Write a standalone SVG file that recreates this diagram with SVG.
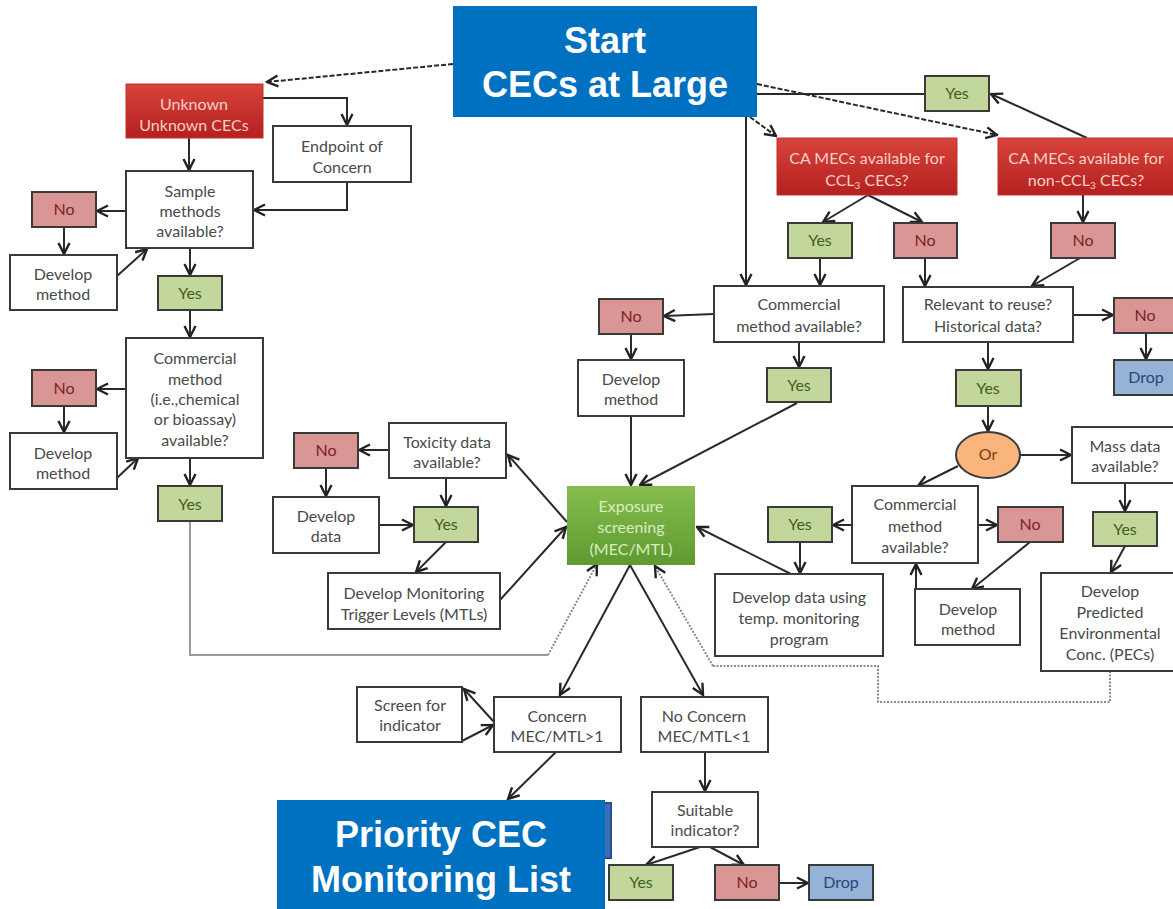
<svg xmlns="http://www.w3.org/2000/svg" width="1173" height="909" viewBox="0 0 1173 909">
<defs>
<linearGradient id="gRed" x1="0" y1="0" x2="0" y2="1"><stop offset="0" stop-color="#D8443B"/><stop offset="1" stop-color="#B3201F"/></linearGradient>
<linearGradient id="gGreen" x1="0" y1="0" x2="0" y2="1"><stop offset="0" stop-color="#86BE4E"/><stop offset="1" stop-color="#5E9A30"/></linearGradient>
<marker id="arr" viewBox="0 0 14 14" refX="12.5" refY="7" markerWidth="14" markerHeight="14" markerUnits="userSpaceOnUse" orient="auto"><path d="M1.5,1.5 L12.5,7 L1.5,12.5" fill="none" stroke="#222" stroke-width="2.4"/></marker>
<marker id="arrG" viewBox="0 0 14 14" refX="12.5" refY="7" markerWidth="14" markerHeight="14" markerUnits="userSpaceOnUse" orient="auto"><path d="M1.5,1.5 L12.5,7 L1.5,12.5" fill="none" stroke="#222" stroke-width="2.4"/></marker>
</defs>
<style>
.box{fill:#fff;stroke:#3a3a3a;stroke-width:2}
.hdr{fill:url(#gRed);stroke:#C03030;stroke-width:1}
.no{fill:#D99694;stroke:#3a3a3a;stroke-width:2}
.yes{fill:#C3D69B;stroke:#3a3a3a;stroke-width:2}
.drop{fill:#95B3D7;stroke:#3a3a3a;stroke-width:2}
.t{font-family:Lato,"Liberation Sans",sans-serif;font-size:16px;fill:#4a4a4a;text-anchor:middle}
.th{font-family:Lato,"Liberation Sans",sans-serif;font-size:16px;fill:#F6CFC8;text-anchor:middle}
.tn{font-family:Lato,"Liberation Sans",sans-serif;font-size:16px;fill:#7A2424;text-anchor:middle}
.ty{font-family:Lato,"Liberation Sans",sans-serif;font-size:16px;fill:#3F5F1E;text-anchor:middle}
.td{font-family:Lato,"Liberation Sans",sans-serif;font-size:16px;fill:#24487A;text-anchor:middle}
.big{font-family:"Liberation Sans",Arial,sans-serif;font-size:36px;font-weight:bold;fill:#fff;text-anchor:middle}
.c{fill:none;stroke:#2a2a2a;stroke-width:2}
.ca{fill:none;stroke:#2a2a2a;stroke-width:2;marker-end:url(#arr)}
.cd{fill:none;stroke:#2a2a2a;stroke-width:2;stroke-dasharray:5,2;marker-end:url(#arr)}
.cg{fill:none;stroke:#9a9a9a;stroke-width:2}
.cgd{fill:none;stroke:#8a8a8a;stroke-width:2;stroke-dasharray:2,1.5}
.cgda{fill:none;stroke:#8a8a8a;stroke-width:2;stroke-dasharray:2,1.5;marker-end:url(#arrG)}
</style>
<rect width="1173" height="909" fill="#fff"/>

<g id="connectors">
<path class="cd" d="M453,64 L267,82"/>
<path class="cd" d="M750,117 L776,136"/>
<path class="cd" d="M757,84 L997,135"/>
<path class="c" d="M757,94 L925,94"/>
<path class="ca" d="M1087,138 L991,94"/>
<path class="ca" d="M746,117 L746,285"/>
<path class="ca" d="M189,138 L189,170"/>
<path class="ca" d="M263,98 L347,98 L347,125"/>
<path class="ca" d="M347,182 L347,210 L254,210"/>
<path class="ca" d="M126,211 L97,211"/>
<path class="ca" d="M64,227 L64,254"/>
<path class="ca" d="M117,276 L147,249"/>
<path class="ca" d="M190,248 L190,275"/>
<path class="ca" d="M190,310 L190,337"/>
<path class="ca" d="M126,389 L97,389"/>
<path class="ca" d="M64,406 L64,432"/>
<path class="ca" d="M117,478 L138,458"/>
<path class="ca" d="M190,458 L190,485"/>
<path class="cg" d="M190,521 L190,655 L548,655"/>
<path class="cgda" d="M548,655 L597,564"/>
<path class="cgd" d="M1110,671 L1110,702 L878,702 L878,666 L713,666"/>
<path class="cgda" d="M713,666 L655,566"/>
<path class="ca" d="M389,450 L359,450"/>
<path class="ca" d="M326,468 L326,496"/>
<path class="ca" d="M379,525 L413,525"/>
<path class="ca" d="M446,478 L446,506"/>
<path class="ca" d="M446,542 L416,572"/>
<path class="ca" d="M500,600 L566,527"/>
<path class="ca" d="M567,522 L508,455"/>
<path class="ca" d="M714,314 L664,316"/>
<path class="ca" d="M631,334 L631,359"/>
<path class="ca" d="M631,416 L631,485"/>
<path class="ca" d="M799,342 L799,367"/>
<path class="ca" d="M797,403 L640,485"/>
<path class="ca" d="M868,195 L823,222"/>
<path class="ca" d="M868,195 L922,222"/>
<path class="ca" d="M820,258 L820,285"/>
<path class="ca" d="M925,258 L925,286"/>
<path class="ca" d="M1083,195 L1083,222"/>
<path class="ca" d="M1080,258 L1032,286"/>
<path class="ca" d="M1073,315 L1113,315"/>
<path class="ca" d="M1146,333 L1146,359"/>
<path class="ca" d="M988,342 L988,369"/>
<path class="ca" d="M988,406 L988,431"/>
<path class="ca" d="M1020,455 L1071,455"/>
<path class="ca" d="M958,466 L918,486"/>
<path class="ca" d="M852,525 L833,525"/>
<path class="ca" d="M978,525 L997,525"/>
<path class="ca" d="M1030,542 L972,589"/>
<path class="ca" d="M916,600 L916,564"/>
<path class="ca" d="M1125,483 L1125,511"/>
<path class="ca" d="M1125,546 L1111,572"/>
<path class="ca" d="M800,542 L800,573"/>
<path class="ca" d="M793,575 L697,527"/>
<path class="ca" d="M630,565 L560,695"/>
<path class="ca" d="M630,565 L703,695"/>
<path class="ca" d="M494,722 L464,689"/>
<path class="ca" d="M462,741 L493,725"/>
<path class="ca" d="M556,752 L508,799"/>
<path class="ca" d="M705,752 L705,791"/>
<path class="ca" d="M700,847 L646,865"/>
<path class="ca" d="M710,847 L744,865"/>
<path class="ca" d="M779,883 L808,883"/>
</g>

<g id="start"><rect x="453" y="6" width="304" height="111" fill="#0070C0"/><text class="big" x="605" y="53">Start</text><text class="big" x="605" y="97">CECs at Large</text></g>

<g id="unknown"><rect class="hdr" x="126" y="84" width="137" height="54"/><text class="th" x="194" y="110">Unknown</text><text class="th" x="194" y="131">Unknown CECs</text></g>
<g id="endpoint"><rect class="box" x="273" y="126" width="138" height="56"/><text class="t" x="342" y="152">Endpoint of</text><text class="t" x="342" y="173">Concern</text></g>
<g id="sample"><rect class="box" x="126" y="171" width="127" height="77"/><text class="t" x="190" y="197">Sample</text><text class="t" x="190" y="217">methods</text><text class="t" x="190" y="237">available?</text></g>
<g id="no1"><rect class="no" x="32" y="192" width="64" height="35"/><text class="tn" x="64" y="215">No</text></g>
<g id="dev1"><rect class="box" x="10" y="255" width="107" height="55"/><text class="t" x="63" y="280">Develop</text><text class="t" x="63" y="300">method</text></g>
<g id="yes1"><rect class="yes" x="158" y="276" width="64" height="34"/><text class="ty" x="190" y="299">Yes</text></g>
<g id="comm1"><rect class="box" x="126" y="338" width="137" height="120"/><text class="t" x="195" y="364">Commercial</text><text class="t" x="195" y="385">method</text><text class="t" x="195" y="405">(i.e.,chemical</text><text class="t" x="195" y="425">or bioassay)</text><text class="t" x="195" y="446">available?</text></g>
<g id="no2"><rect class="no" x="32" y="370" width="64" height="36"/><text class="tn" x="64" y="394">No</text></g>
<g id="dev2"><rect class="box" x="10" y="433" width="107" height="56"/><text class="t" x="63" y="459">Develop</text><text class="t" x="63" y="479">method</text></g>
<g id="yes2"><rect class="yes" x="158" y="486" width="64" height="35"/><text class="ty" x="190" y="510">Yes</text></g>

<g id="tox"><rect class="box" x="389" y="423" width="117" height="55"/><text class="t" x="447" y="448">Toxicity data</text><text class="t" x="447" y="468">available?</text></g>
<g id="notox"><rect class="no" x="294" y="433" width="64" height="35"/><text class="tn" x="326" y="456">No</text></g>
<g id="devdata"><rect class="box" x="273" y="497" width="106" height="56"/><text class="t" x="326" y="522">Develop</text><text class="t" x="326" y="542">data</text></g>
<g id="yestox"><rect class="yes" x="414" y="507" width="64" height="35"/><text class="ty" x="446" y="530">Yes</text></g>
<g id="mtl"><rect class="box" x="328" y="573" width="172" height="56"/><text class="t" x="414" y="599">Develop Monitoring</text><text class="t" x="414" y="620">Trigger Levels (MTLs)</text></g>

<g id="exposure"><rect x="567" y="486" width="128" height="79" fill="url(#gGreen)"/><text class="t" style="fill:#D8EDC2" x="631" y="512">Exposure</text><text class="t" style="fill:#D8EDC2" x="631" y="533">screening</text><text class="t" style="fill:#D8EDC2" x="631" y="555">(MEC/MTL)</text></g>

<g id="nomid"><rect class="no" x="599" y="299" width="64" height="35"/><text class="tn" x="631" y="322">No</text></g>
<g id="devmid"><rect class="box" x="578" y="360" width="106" height="56"/><text class="t" x="631" y="385">Develop</text><text class="t" x="631" y="405">method</text></g>
<g id="commmid"><rect class="box" x="714" y="286" width="170" height="56"/><text class="t" x="799" y="310">Commercial</text><text class="t" x="799" y="332">method available?</text></g>
<g id="yesmid"><rect class="yes" x="767" y="368" width="64" height="34"/><text class="ty" x="799" y="391">Yes</text></g>

<g id="ccl3"><rect class="hdr" x="777" y="138" width="180" height="57"/><text class="th" x="867" y="164">CA MECs available for</text><text class="th" x="867" y="186">CCL<tspan font-size="10" dy="3">3</tspan><tspan dy="-3"> CECs?</tspan></text></g>
<g id="nonccl3"><rect class="hdr" x="998" y="138" width="176" height="57"/><text class="th" x="1086" y="164">CA MECs available for</text><text class="th" x="1086" y="186">non-CCL<tspan font-size="10" dy="3">3</tspan><tspan dy="-3"> CECs?</tspan></text></g>
<g id="yestop"><rect class="yes" x="925" y="76" width="64" height="35"/><text class="ty" x="957" y="99">Yes</text></g>
<g id="yesccl"><rect class="yes" x="788" y="223" width="64" height="35"/><text class="ty" x="820" y="246">Yes</text></g>
<g id="noccl"><rect class="no" x="894" y="223" width="63" height="35"/><text class="tn" x="925" y="246">No</text></g>
<g id="nononccl"><rect class="no" x="1051" y="223" width="64" height="35"/><text class="tn" x="1083" y="246">No</text></g>
<g id="relevant"><rect class="box" x="903" y="287" width="170" height="55"/><text class="t" x="988" y="310">Relevant to reuse?</text><text class="t" x="988" y="332">Historical data?</text></g>
<g id="noright"><rect class="no" x="1114" y="298" width="62" height="35"/><text class="tn" x="1145" y="321">No</text></g>
<g id="dropright"><rect class="drop" x="1114" y="360" width="62" height="35"/><text class="td" x="1146" y="383">Drop</text></g>
<g id="yesrel"><rect class="yes" x="956" y="370" width="65" height="36"/><text class="ty" x="988" y="394">Yes</text></g>
<g id="or"><ellipse cx="988" cy="455" rx="32" ry="23" fill="#F9B57B" stroke="#3a3a3a" stroke-width="2"/><text class="t" style="fill:#7A3E14" x="988" y="460">Or</text></g>
<g id="mass"><rect class="box" x="1072" y="427" width="106" height="56"/><text class="t" x="1125" y="452">Mass data</text><text class="t" x="1125" y="472">available?</text></g>
<g id="commright"><rect class="box" x="852" y="486" width="126" height="77"/><text class="t" x="915" y="510">Commercial</text><text class="t" x="915" y="532">method</text><text class="t" x="915" y="553">available?</text></g>
<g id="yesright"><rect class="yes" x="768" y="507" width="64" height="35"/><text class="ty" x="800" y="530">Yes</text></g>
<g id="noright2"><rect class="no" x="998" y="507" width="65" height="35"/><text class="tn" x="1030" y="530">No</text></g>
<g id="devright"><rect class="box" x="915" y="589" width="105" height="56"/><text class="t" x="968" y="615">Develop</text><text class="t" x="968" y="635">method</text></g>
<g id="yesmass"><rect class="yes" x="1093" y="512" width="64" height="34"/><text class="ty" x="1125" y="535">Yes</text></g>
<g id="pec"><rect class="box" x="1041" y="573" width="138" height="98"/><text class="t" x="1110" y="597">Develop</text><text class="t" x="1110" y="618">Predicted</text><text class="t" x="1110" y="639">Environmental</text><text class="t" x="1110" y="660">Conc. (PECs)</text></g>
<g id="devtemp"><rect class="box" x="715" y="574" width="168" height="82"/><text class="t" x="799" y="603">Develop data using</text><text class="t" x="799" y="624">temp. monitoring</text><text class="t" x="799" y="645">program</text></g>

<g id="screen"><rect class="box" x="357" y="687" width="105" height="55"/><text class="t" x="410" y="711">Screen for</text><text class="t" x="410" y="731">indicator</text></g>
<g id="concern"><rect class="box" x="494" y="697" width="127" height="55"/><text class="t" x="557" y="722">Concern</text><text class="t" x="557" y="742">MEC/MTL&gt;1</text></g>
<g id="noconcern"><rect class="box" x="641" y="697" width="127" height="55"/><text class="t" x="704" y="722">No Concern</text><text class="t" x="704" y="742">MEC/MTL&lt;1</text></g>
<g id="suitable"><rect class="box" x="652" y="792" width="106" height="55"/><text class="t" x="705" y="816">Suitable</text><text class="t" x="705" y="836">indicator?</text></g>
<g id="yesbot"><rect class="yes" x="609" y="865" width="64" height="35"/><text class="ty" x="641" y="888">Yes</text></g>
<g id="nobot"><rect class="no" x="715" y="865" width="64" height="35"/><text class="tn" x="747" y="888">No</text></g>
<g id="dropbot"><rect class="drop" x="809" y="865" width="64" height="35"/><text class="td" x="841" y="888">Drop</text></g>

<g id="priority"><rect x="290" y="803" width="321" height="55" fill="#3C6FB6" stroke="#27508C" stroke-width="2"/><rect x="277" y="800" width="328" height="109" fill="#0070C0"/><text class="big" x="441" y="847">Priority CEC</text><text class="big" x="441" y="892">Monitoring List</text></g>
</svg>
